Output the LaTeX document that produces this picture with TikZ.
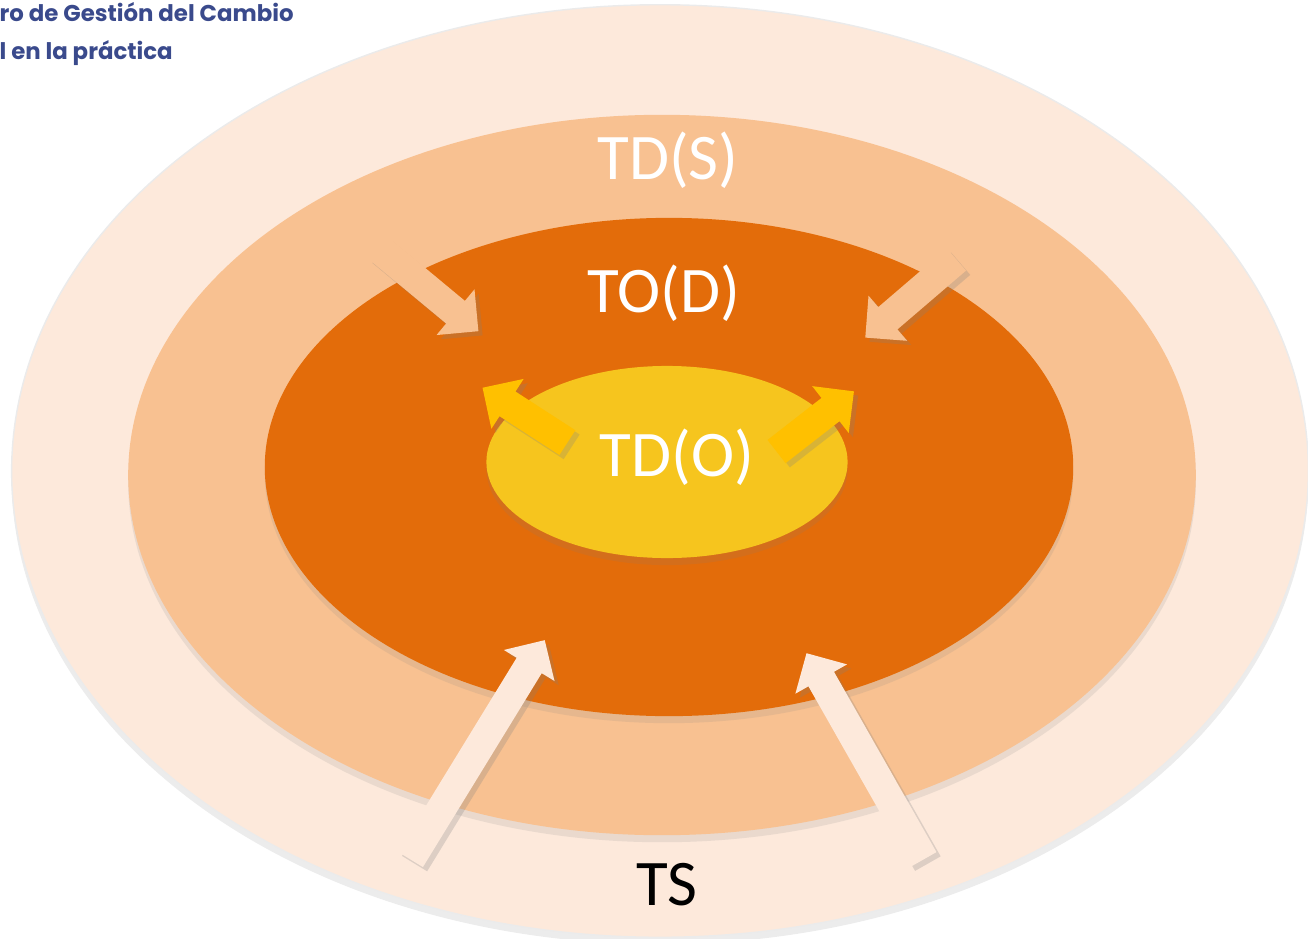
\documentclass[tikz,border=0pt]{standalone}
\usepackage{fontspec}
\setmainfont{Carlito}
\newfontfamily\headfont{Poppins}
\usetikzlibrary{shapes.geometric,shapes.arrows,shadows}
\definecolor{tspale}{HTML}{FDE9DB}
\definecolor{tdsring}{HTML}{F8C191}
\definecolor{todcore}{HTML}{E36C0A}
\definecolor{tdoyel}{HTML}{F6C51E}
\definecolor{arryel}{HTML}{FFC000}
\definecolor{headblue}{HTML}{3A4A8C}
\tikzset{%
    ring/.style={ellipse,inner sep=0pt,
        drop shadow={opacity=0.15,shadow xshift=0pt,shadow yshift=-2pt}},
    blk/.style={single arrow,anchor=tail,inner xsep=0pt,inner ysep=0.14cm,
        minimum width=0.58cm,single arrow head extend=0.15cm,
        drop shadow={opacity=0.25,shadow xshift=1.2pt,shadow yshift=-1.2pt}},
    lbl/.style={inner sep=0pt,font=\fontsize{18.5}{20}\selectfont},
    head/.style={inner sep=0pt,anchor=base west,text=headblue,
        font=\headfont\bfseries\fontsize{6.5}{7}\selectfont}
}

\begin{document}
\begin{tikzpicture}[x=0.01cm,y=-0.01cm]
    \useasboundingbox (0,0) rectangle (1308,939);

    \node[ring,fill=tspale,draw=black!8,minimum width=12.96cm,minimum height=9.32cm] (ts) at (660,471){};
    \node[ring,fill=tdsring,minimum width=10.67cm,minimum height=7.2cm] (tds) at (662,475){};
    \node[ring,fill=todcore,minimum width=8.08cm,minimum height=4.98cm] (tod) at (669,467){};

    % arrows into TO(D)
    \node[blk,fill=tdsring,minimum height=1.31cm,rotate=-39.7] (arrtl) at (377,247){};
    \node[blk,fill=tdsring,minimum height=1.20cm,rotate=220.6] (arrtr) at (957,259){};

    \node[ring,fill=tdoyel,minimum width=3.61cm,minimum height=1.92cm] (tdo) at (667,462){};

    % arrows out of TD(O)
    \node[blk,fill=arryel,minimum height=1.01cm,rotate=147.1] (arryl) at (568,443){};
    \node[blk,fill=arryel,minimum height=0.98cm,rotate=37.9] (arryr) at (776,452){};

    % arrows from TS
    \node[blk,fill=tspale,minimum height=2.57cm,rotate=58.5] (arrbl) at (410,860){};
    \node[blk,fill=tspale,minimum height=2.37cm,rotate=119.6] (arrbr) at (924,860){};

    \node[lbl,text=white] (tdslbl) at (668,160){TD(S)};
    \node[lbl,text=white] (todlbl) at (664,293){TO(D)};
    \node[lbl,text=white] (tdolbl) at (677,457){TD(O)};
    \node[lbl,text=black] (tslbl) at (667,885){TS};

    \node[head] (hd1) at (-1,21){ro de Gestión del Cambio};
    \node[head] (hd2) at (-1,59){l en la práctica};
\end{tikzpicture}
\end{document}
